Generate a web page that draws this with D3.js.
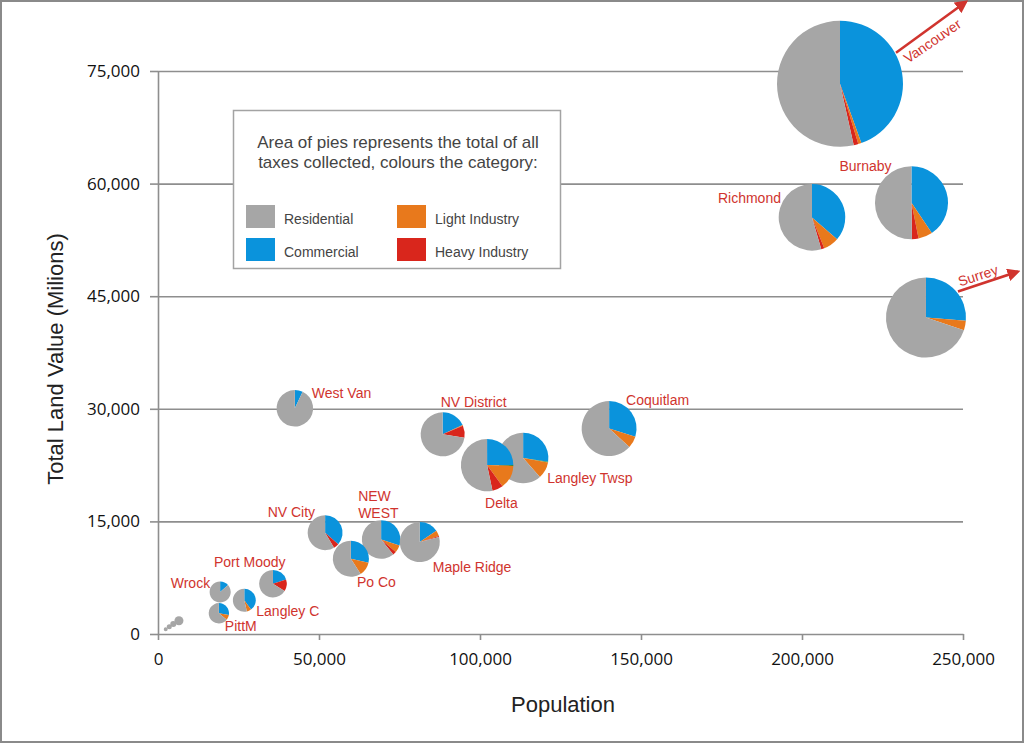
<!DOCTYPE html>
<html>
<head>
<meta charset="utf-8">
<script src="https://cdn.jsdelivr.net/npm/d3@7"></script>
<style>
  html, body { margin: 0; padding: 0; background: #fff; }
  svg { display: block; }
</style>
</head>
<body>
<svg id="chart" width="1024" height="743"></svg>
<script>
// ---------------- DATA ----------------
const cities = ["Vancouver","Burnaby","Surrey","Richmond","West Van","NV District","Langley Twsp","Delta",
  "Coquitlam","NV City","NEW WEST","Po Co","Maple Ridge","Port Moody","Wrock","Langley C","PittM",
  "Small 1","Small 2","Small 3","Small 4"];
const population = [211800, 234000, 238500, 203100, 42500, 88400, 113400, 102200,
  140100, 51900, 69300, 59900, 81300, 35700, 19300, 26800, 18900,
  6500, 4750, 3500, 2400];
const landValue = [73300, 57450, 42150, 55500, 30070, 26600, 23450, 22500,
  27370, 13500, 12590, 10030, 12250, 6700, 5600, 4490, 2760,
  1770, 1330, 970, 630];
const taxTotal = [1000, 336, 403, 279, 84, 122, 161, 173,
  190, 77, 94, 82, 101, 48, 28, 33, 26,
  5.1, 2.3, 1.6, 1.0];
// shares of taxes (%) by category
const commercial    = [44.5, 40.6, 26.3, 36.4, 7.0, 18.1, 27.4, 25.0, 29.8, 36.5, 30.1, 28.5, 15.5, 20.0, 13.5, 40.1, 27.8, 0, 0, 0, 0];
const utilities     = [0, 0, 0, 0, 0, 0, 0.5, 0.5, 0, 0, 0, 0, 0, 0, 0, 0, 0, 0, 0, 0, 0];
const lightIndustry = [0.8, 6.3, 3.8, 7.6, 0, 0.5, 10.6, 14.5, 7.0, 0, 6.2, 12.4, 4.7, 0, 0, 6.3, 8.0, 0, 0, 0, 0];
const heavyIndustry = [1.2, 2.9, 0, 1.5, 0, 8.8, 0, 6.7, 0, 5.0, 2.9, 0, 0.7, 13.9, 0, 0, 0, 0, 0, 0, 0];
const residential   = [53.5, 50.2, 69.9, 54.5, 93.0, 72.6, 61.5, 53.3, 63.2, 58.5, 60.8, 59.1, 79.1, 66.1, 86.5, 53.6, 64.2, 100, 100, 100, 100];

const categories = ["Residential", "Commercial", "Light Industry", "Heavy Industry"];
const xTicks = [0, 50000, 100000, 150000, 200000, 250000];
const yTicks = [0, 15000, 30000, 45000, 60000, 75000];

// ---------------- STYLE / LAYOUT ----------------
const colors = {
  "Residential": "#a6a6a6",
  "Commercial": "#0a93dc",
  "Utilities": "#2f8f3a",
  "Light Industry": "#e8791c",
  "Heavy Industry": "#d9261c"
};
const labelRed = "#d0342e";
const gridGrey = "#8e8e8e";

// label offsets relative to pie centre (px)
const labelLayout = {
  "Burnaby":      {dx: -72, dy: -32, anchor: "start"},
  "Richmond":     {dx: -31, dy: -14, anchor: "end"},
  "West Van":     {dx: 17,  dy: -10, anchor: "start"},
  "NV District":  {dx: -2,  dy: -27, anchor: "start"},
  "Delta":        {dx: -2,  dy: 43,  anchor: "start"},
  "Langley Twsp": {dx: 24,  dy: 25,  anchor: "start"},
  "Coquitlam":    {dx: 17,  dy: -24, anchor: "start"},
  "NV City":      {dx: -10, dy: -16, anchor: "end"},
  "NEW WEST":     {dx: -23, dy: -38, anchor: "start", lines: ["NEW", "WEST"]},
  "Po Co":        {dx: 6,   dy: 28,  anchor: "start"},
  "Maple Ridge":  {dx: 13,  dy: 30,  anchor: "start"},
  "Port Moody":   {dx: -59, dy: -17, anchor: "start"},
  "Wrock":        {dx: -10, dy: -4,  anchor: "end"},
  "Langley C":    {dx: 12,  dy: 16,  anchor: "start"},
  "PittM":        {dx: 6,   dy: 18,  anchor: "start"},
  "Vancouver":    {dx: 68,  dy: -20, anchor: "start", rotate: -34.5, arrow: [56, -31, 126, -82]},
  "Surrey":       {dx: 34,  dy: -31, anchor: "start", rotate: -18, arrow: [32, -26, 92, -46]}
};

const W = 1024, H = 743;
const svg = d3.select("#chart");

svg.append("rect").attr("x", 1).attr("y", 1).attr("width", W - 2).attr("height", H - 2)
  .attr("fill", "#fff").attr("stroke", "#8a8a8a").attr("stroke-width", 2);

const x = d3.scaleLinear().domain([0, 250000]).range([158, 963]);
const y = d3.scaleLinear().domain([0, 75000]).range([634, 71]);
const r = d3.scaleSqrt().domain([0, 1000]).range([0, 63]);

const tickFont = "'Open Sans', 'DejaVu Sans', sans-serif";

// grid lines
const grid = svg.append("g").attr("transform", `translate(${x(0)},0)`)
  .call(d3.axisLeft(y).tickValues(yTicks.filter(v => v > 0)).tickSize(-(x(250000) - x(0))).tickFormat(""));
grid.select(".domain").remove();
grid.selectAll("line").attr("stroke", gridGrey).attr("stroke-width", 1.6);

// y axis
const yAxis = svg.append("g").attr("transform", `translate(${x(0)},0)`)
  .call(d3.axisLeft(y).tickValues(yTicks).tickSize(8).tickSizeOuter(0).tickPadding(10).tickFormat(d3.format(",")));
yAxis.select(".domain").attr("stroke", gridGrey).attr("stroke-width", 1.6);
yAxis.selectAll("line").attr("stroke", gridGrey).attr("stroke-width", 1.6);
yAxis.selectAll("text").attr("font-family", tickFont).attr("font-size", 17).attr("fill", "#111");

// x axis
const xAxis = svg.append("g").attr("transform", `translate(0,${y(0)})`)
  .call(d3.axisBottom(x).tickValues(xTicks).tickSize(6).tickSizeOuter(0).tickPadding(13).tickFormat(d3.format(",")));
xAxis.select(".domain").attr("stroke", gridGrey).attr("stroke-width", 1.6);
xAxis.selectAll("line").attr("stroke", gridGrey).attr("stroke-width", 1.6);
xAxis.selectAll("text").attr("font-family", tickFont).attr("font-size", 17).attr("fill", "#111");

// axis titles
svg.append("text").attr("x", 563).attr("y", 712).attr("text-anchor", "middle")
  .attr("font-family", "'Liberation Sans', Arial, sans-serif").attr("font-size", 22).attr("fill", "#222")
  .text("Population");
svg.append("text").attr("transform", "translate(63,359) rotate(-90)").attr("text-anchor", "middle")
  .attr("font-family", "'Liberation Sans', Arial, sans-serif").attr("font-size", 22).attr("fill", "#222")
  .text("Total Land Value (Milions)");

// legend
const lg = svg.append("g");
lg.append("rect").attr("x", 233.5).attr("y", 110.5).attr("width", 327).attr("height", 158)
  .attr("fill", "#fff").attr("stroke", "#a3a3a3").attr("stroke-width", 1.5);
const lgFont = "'Liberation Sans', Arial, sans-serif";
lg.append("text").attr("x", 398).attr("y", 148).attr("text-anchor", "middle")
  .attr("font-family", lgFont).attr("font-size", 17).attr("fill", "#444")
  .text("Area of pies represents the total of all");
lg.append("text").attr("x", 398).attr("y", 168).attr("text-anchor", "middle")
  .attr("font-family", lgFont).attr("font-size", 17).attr("fill", "#444")
  .text("taxes collected, colours the category:");
const lgPos = [[246, 205], [246, 238], [397, 205], [397, 238]];
categories.forEach((c, i) => {
  const [lx, ly] = lgPos[i];
  lg.append("rect").attr("x", lx).attr("y", ly).attr("width", 29).attr("height", 23).attr("fill", colors[c]);
  lg.append("text").attr("x", lx + 38).attr("y", ly + 19).attr("font-family", lgFont)
    .attr("font-size", 14).attr("fill", "#444").text(c);
});

// pies
const pie = d3.pie().sort(null).value(d => d.v);
const arc = d3.arc().innerRadius(0);
const data = cities.map((name, i) => ({
  name,
  px: x(population[i]), py: y(landValue[i]), rad: r(taxTotal[i]),
  parts: [
    {k: "Commercial", v: commercial[i]},
    {k: "Utilities", v: utilities[i]},
    {k: "Light Industry", v: lightIndustry[i]},
    {k: "Heavy Industry", v: heavyIndustry[i]},
    {k: "Residential", v: residential[i]}
  ]
}));

const pies = svg.append("g").selectAll("g.pie").data(data).join("g")
  .attr("class", "pie").attr("transform", d => `translate(${d.px},${d.py})`);
pies.each(function(d) {
  d3.select(this).selectAll("path").data(pie(d.parts).filter(s => s.data.v > 0)).join("path")
    .attr("d", s => arc.outerRadius(d.rad)(s))
    .attr("fill", s => colors[s.data.k]);
});

// labels
const labFont = "'Liberation Sans', Arial, sans-serif";
svg.append("defs").append("marker").attr("id", "arrowhead")
  .attr("viewBox", "0 0 10 10").attr("refX", 8).attr("refY", 5)
  .attr("markerWidth", 5).attr("markerHeight", 5).attr("orient", "auto")
  .append("path").attr("d", "M0,0 L10,5 L0,10 z").attr("fill", labelRed);

data.forEach(d => {
  const L = labelLayout[d.name];
  if (!L) return;
  if (L.arrow) {
    svg.append("line")
      .attr("x1", d.px + L.arrow[0]).attr("y1", d.py + L.arrow[1])
      .attr("x2", d.px + L.arrow[2]).attr("y2", d.py + L.arrow[3])
      .attr("stroke", labelRed).attr("stroke-width", 2.6).attr("marker-end", "url(#arrowhead)");
  }
  const t = svg.append("text")
    .attr("font-family", labFont).attr("font-size", 14).attr("fill", labelRed)
    .attr("text-anchor", L.anchor);
  const lx = d.px + L.dx, ly = d.py + L.dy;
  if (L.rotate) {
    t.attr("transform", `translate(${lx},${ly}) rotate(${L.rotate})`).text(d.name);
  } else if (L.lines) {
    t.attr("x", lx).attr("y", ly);
    L.lines.forEach((ln, j) => {
      t.append("tspan").attr("x", lx).attr("y", ly + j * 16.6).text(ln);
    });
  } else {
    t.attr("x", lx).attr("y", ly).text(d.name);
  }
});
</script>
</body>
</html>
